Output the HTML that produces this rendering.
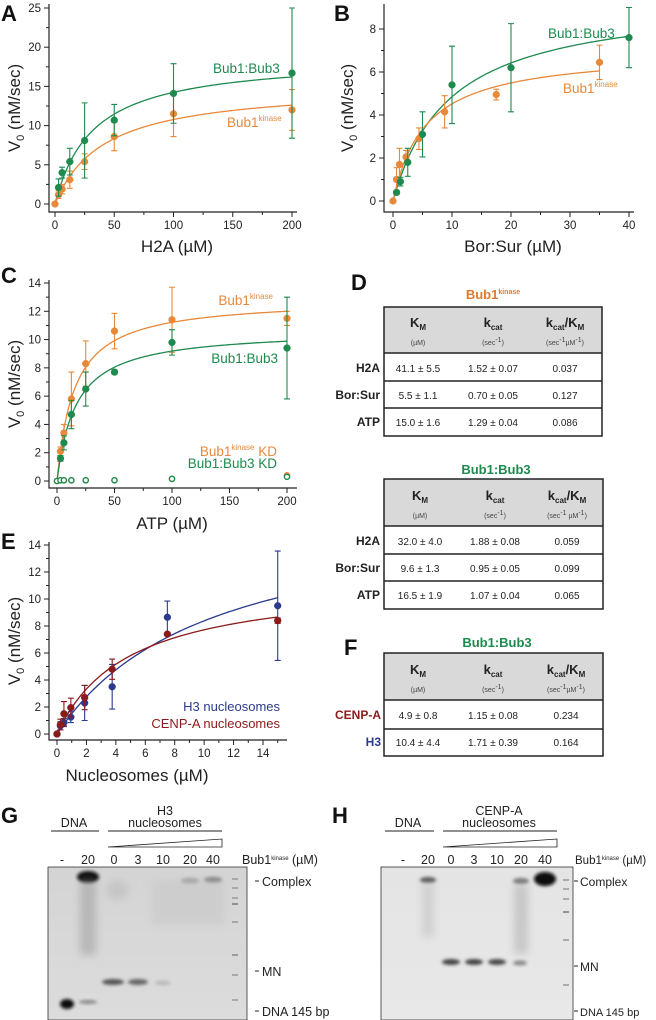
<!DOCTYPE html>
<html><head><meta charset="utf-8"><style>
html,body{margin:0;padding:0;background:#fff}
svg{display:block;font-family:"Liberation Sans",Arial,sans-serif}
</style></head><body>
<svg id="fig" width="656" height="1020" viewBox="0 0 656 1020" xmlns="http://www.w3.org/2000/svg">
<defs>
<filter id="blur1" x="-50%" y="-50%" width="200%" height="200%"><feGaussianBlur stdDeviation="1.6"/></filter>
<filter id="blur3" x="-50%" y="-50%" width="200%" height="200%"><feGaussianBlur stdDeviation="4"/></filter>
<linearGradient id="gelG" x1="0" y1="0" x2="0" y2="1"><stop offset="0" stop-color="#d4d4d4"/><stop offset="1" stop-color="#dcdcdc"/></linearGradient>
<linearGradient id="gelH" x1="0" y1="0" x2="0" y2="1"><stop offset="0" stop-color="#e4e4e4"/><stop offset="1" stop-color="#e8e8e8"/></linearGradient>
</defs>
<g font-weight="bold" font-size="22" fill="#111">
<text x="1" y="21">A</text>
<text x="334" y="21">B</text>
<text x="1" y="283">C</text>
<text x="351" y="290">D</text>
<text x="1" y="549">E</text>
<text x="344" y="655">F</text>
<text x="1" y="823">G</text>
<text x="332" y="823">H</text>
</g>
<g id="plots"></g>

<!-- Table D1 -->
<g>
<text x="493" y="299" text-anchor="middle" font-weight="bold" font-size="13" fill="#e07a2e">Bub1<tspan font-size="7" dy="-5">kinase</tspan></text>
<rect x="384" y="307" width="218" height="46" fill="#d9d9d9"/>
<rect x="384" y="307" width="218" height="129" fill="none" stroke="#222" stroke-width="1.5"/>
<line x1="384" y1="353" x2="602" y2="353" stroke="#222" stroke-width="1.5"/>
<line x1="384" y1="381" x2="602" y2="381" stroke="#222" stroke-width="1.5"/>
<line x1="384" y1="408" x2="602" y2="408" stroke="#222" stroke-width="1.5"/>
<g font-weight="bold" font-size="13" fill="#222" text-anchor="middle">
<text x="418" y="327">K<tspan font-size="8" dy="3">M</tspan></text>
<text x="493" y="327">k<tspan font-size="8" dy="3">cat</tspan></text>
<text x="565" y="327">k<tspan font-size="8" dy="3">cat</tspan><tspan dy="-3">/K</tspan><tspan font-size="8" dy="3">M</tspan></text>
</g>
<g font-size="7" fill="#444" text-anchor="middle">
<text x="418" y="345">(µM)</text><text x="493" y="345">(sec<tspan dy="-3">-1</tspan><tspan dy="3">)</tspan></text><text x="565" y="345">(sec<tspan dy="-3">-1</tspan><tspan dy="3">µM</tspan><tspan dy="-3">-1</tspan><tspan dy="3">)</tspan></text>
</g>
<g font-size="10" fill="#222" text-anchor="middle">
<text x="418" y="372">41.1 ± 5.5</text><text x="493" y="372">1.52 ± 0.07</text><text x="565" y="372">0.037</text>
<text x="418" y="399">5.5 ± 1.1</text><text x="493" y="399">0.70 ± 0.05</text><text x="565" y="399">0.127</text>
<text x="418" y="426">15.0 ± 1.6</text><text x="493" y="426">1.29 ± 0.04</text><text x="565" y="426">0.086</text>
</g>
<g font-weight="bold" font-size="12" fill="#222" text-anchor="end">
<text x="380" y="372">H2A</text><text x="380" y="399">Bor:Sur</text><text x="380" y="426">ATP</text>
</g>
</g>

<!-- Table D2 -->
<g>
<text x="496" y="474" text-anchor="middle" font-weight="bold" font-size="13" fill="#1e8a4e">Bub1:Bub3</text>
<rect x="384" y="479" width="219" height="47" fill="#d9d9d9"/>
<rect x="384" y="479" width="219" height="130" fill="none" stroke="#222" stroke-width="1.5"/>
<line x1="384" y1="526" x2="603" y2="526" stroke="#222" stroke-width="1.5"/>
<line x1="384" y1="554" x2="603" y2="554" stroke="#222" stroke-width="1.5"/>
<line x1="384" y1="581" x2="603" y2="581" stroke="#222" stroke-width="1.5"/>
<g font-weight="bold" font-size="13" fill="#222" text-anchor="middle">
<text x="420" y="500">K<tspan font-size="8" dy="3">M</tspan></text>
<text x="495" y="500">k<tspan font-size="8" dy="3">cat</tspan></text>
<text x="567" y="500">k<tspan font-size="8" dy="3">cat</tspan><tspan dy="-3">/K</tspan><tspan font-size="8" dy="3">M</tspan></text>
</g>
<g font-size="7" fill="#444" text-anchor="middle">
<text x="420" y="518">(µM)</text><text x="495" y="518">(sec<tspan dy="-3">-1</tspan><tspan dy="3">)</tspan></text><text x="567" y="518">(sec<tspan dy="-3">-1</tspan><tspan dy="3"> µM</tspan><tspan dy="-3">-1</tspan><tspan dy="3">)</tspan></text>
</g>
<g font-size="10" fill="#222" text-anchor="middle">
<text x="420" y="545">32.0 ± 4.0</text><text x="495" y="545">1.88 ± 0.08</text><text x="567" y="545">0.059</text>
<text x="420" y="572">9.6 ± 1.3</text><text x="495" y="572">0.95 ± 0.05</text><text x="567" y="572">0.099</text>
<text x="420" y="599">16.5 ± 1.9</text><text x="495" y="599">1.07 ± 0.04</text><text x="567" y="599">0.065</text>
</g>
<g font-weight="bold" font-size="12" fill="#222" text-anchor="end">
<text x="380" y="545">H2A</text><text x="380" y="572">Bor:Sur</text><text x="380" y="599">ATP</text>
</g>
</g>

<!-- Table F -->
<g>
<text x="497" y="647" text-anchor="middle" font-weight="bold" font-size="13" fill="#1e8a4e">Bub1:Bub3</text>
<rect x="384" y="653" width="219" height="47" fill="#d9d9d9"/>
<rect x="384" y="653" width="219" height="103" fill="none" stroke="#222" stroke-width="1.5"/>
<line x1="384" y1="700" x2="603" y2="700" stroke="#222" stroke-width="1.5"/>
<line x1="384" y1="729" x2="603" y2="729" stroke="#222" stroke-width="1.5"/>
<g font-weight="bold" font-size="13" fill="#222" text-anchor="middle">
<text x="418" y="674">K<tspan font-size="8" dy="3">M</tspan></text>
<text x="493" y="674">k<tspan font-size="8" dy="3">cat</tspan></text>
<text x="566" y="674">k<tspan font-size="8" dy="3">cat</tspan><tspan dy="-3">/K</tspan><tspan font-size="8" dy="3">M</tspan></text>
</g>
<g font-size="7" fill="#444" text-anchor="middle">
<text x="418" y="692">(µM)</text><text x="493" y="692">(sec<tspan dy="-3">-1</tspan><tspan dy="3">)</tspan></text><text x="566" y="692">(sec<tspan dy="-3">-1</tspan><tspan dy="3">µM</tspan><tspan dy="-3">-1</tspan><tspan dy="3">)</tspan></text>
</g>
<g font-size="10" fill="#222" text-anchor="middle">
<text x="418" y="719">4.9 ± 0.8</text><text x="493" y="719">1.15 ± 0.08</text><text x="566" y="719">0.234</text>
<text x="418" y="746">10.4 ± 4.4</text><text x="493" y="746">1.71 ± 0.39</text><text x="566" y="746">0.164</text>
</g>
<g font-weight="bold" font-size="12" text-anchor="end">
<text x="381" y="719" fill="#8b1a1a">CENP-A</text><text x="381" y="746" fill="#2b3a8f">H3</text>
</g>
</g>

<!-- Gel G -->
<g font-size="12.5" fill="#222">
<text x="74" y="827" text-anchor="middle">DNA</text>
<line x1="51" y1="831" x2="99" y2="831" stroke="#222"/>
<text x="165" y="815" text-anchor="middle">H3</text>
<text x="165" y="827" text-anchor="middle">nucleosomes</text>
<line x1="108" y1="831" x2="222" y2="831" stroke="#222"/>
<polygon points="108,847 222,839 222,847" fill="#fff" stroke="#222" stroke-width="0.8"/>
<g text-anchor="middle"><text x="62" y="864">-</text><text x="88" y="864">20</text><text x="114" y="864">0</text><text x="138" y="864">3</text><text x="163" y="864">10</text><text x="190" y="864">20</text><text x="213" y="864">40</text></g>
<text x="242" y="864">Bub1<tspan font-size="6" dy="-4">kinase</tspan><tspan dy="4"> (µM)</tspan></text>
<rect x="48" y="867" width="199" height="153" fill="url(#gelG)" stroke="#333" stroke-width="0.8"/>
<ellipse cx="88" cy="877" rx="11" ry="6" fill="#111" filter="url(#blur1)"/>
<rect x="80" y="880" width="16" height="75" fill="#999" opacity="0.5" filter="url(#blur3)"/>
<ellipse cx="117" cy="890" rx="11" ry="10" fill="#c6c6c6" filter="url(#blur3)"/>
<ellipse cx="190" cy="881" rx="9" ry="3" fill="#999" filter="url(#blur1)"/>
<ellipse cx="213" cy="880" rx="9" ry="3" fill="#777" filter="url(#blur1)"/>
<rect x="152" y="880" width="72" height="45" fill="#c8c8c8" opacity="0.6" filter="url(#blur3)"/>
<ellipse cx="113" cy="982" rx="11" ry="3" fill="#555" filter="url(#blur1)"/>
<ellipse cx="138" cy="982" rx="10" ry="3" fill="#666" filter="url(#blur1)"/>
<ellipse cx="163" cy="983" rx="8" ry="2.5" fill="#bbb" filter="url(#blur1)"/>
<ellipse cx="67" cy="1004" rx="7" ry="5" fill="#111" filter="url(#blur1)"/>
<ellipse cx="88" cy="1002" rx="9" ry="2" fill="#888" filter="url(#blur1)"/>
<g stroke="#999" stroke-width="1.5"><line x1="232" y1="879" x2="238" y2="879"/><line x1="232" y1="888" x2="238" y2="888"/><line x1="232" y1="898" x2="238" y2="898"/><line x1="232" y1="904" x2="238" y2="904" stroke="#777"/><line x1="232" y1="922" x2="238" y2="922"/><line x1="232" y1="955" x2="238" y2="955" stroke="#888"/><line x1="232" y1="975" x2="238" y2="975"/><line x1="232" y1="1000" x2="238" y2="1000"/></g>
<g stroke="#222"><line x1="255" y1="881" x2="259" y2="881"/><line x1="255" y1="971" x2="259" y2="971"/><line x1="255" y1="1011" x2="259" y2="1011"/></g>
<text x="262" y="886">Complex</text><text x="262" y="976">MN</text><text x="262" y="1016">DNA 145 bp</text>
</g>

<!-- Gel H -->
<g font-size="12.5" fill="#222">
<text x="408" y="827" text-anchor="middle">DNA</text>
<line x1="385" y1="831" x2="434" y2="831" stroke="#222"/>
<text x="499" y="815" text-anchor="middle">CENP-A</text>
<text x="499" y="827" text-anchor="middle">nucleosomes</text>
<line x1="443" y1="831" x2="557" y2="831" stroke="#222"/>
<polygon points="443,847 557,839 557,847" fill="#fff" stroke="#222" stroke-width="0.8"/>
<g text-anchor="middle"><text x="403" y="864">-</text><text x="428" y="864">20</text><text x="451" y="864">0</text><text x="474" y="864">3</text><text x="497" y="864">10</text><text x="521" y="864">20</text><text x="545" y="864">40</text></g>
<text x="575" y="864" font-size="11.5">Bub1<tspan font-size="6" dy="-4">kinase</tspan><tspan dy="4"> (µM)</tspan></text>
<rect x="381" y="867" width="192" height="153" fill="url(#gelH)" stroke="#333" stroke-width="0.8"/>
<ellipse cx="428" cy="880" rx="8" ry="3" fill="#555" filter="url(#blur1)"/>
<rect x="422" y="882" width="12" height="55" fill="#bbb" opacity="0.5" filter="url(#blur3)"/>
<ellipse cx="521" cy="881" rx="8" ry="3" fill="#777" filter="url(#blur1)"/>
<rect x="514" y="884" width="14" height="70" fill="#aaa" opacity="0.5" filter="url(#blur3)"/>
<ellipse cx="545" cy="879" rx="11" ry="7" fill="#080808" filter="url(#blur1)"/>
<ellipse cx="451" cy="962" rx="9" ry="3" fill="#444" filter="url(#blur1)"/>
<ellipse cx="474" cy="962" rx="9" ry="3" fill="#444" filter="url(#blur1)"/>
<ellipse cx="497" cy="962" rx="9" ry="3" fill="#4a4a4a" filter="url(#blur1)"/>
<ellipse cx="520" cy="963" rx="7" ry="2.5" fill="#888" filter="url(#blur1)"/>
<g stroke="#999" stroke-width="1.5"><line x1="563" y1="880" x2="569" y2="880"/><line x1="563" y1="889" x2="569" y2="889"/><line x1="563" y1="899" x2="569" y2="899"/><line x1="563" y1="912" x2="569" y2="912" stroke="#777"/><line x1="563" y1="940" x2="569" y2="940"/><line x1="563" y1="985" x2="569" y2="985"/></g>
<g stroke="#222"><line x1="574" y1="881" x2="578" y2="881"/><line x1="574" y1="966" x2="578" y2="966"/><line x1="574" y1="1011" x2="578" y2="1011"/></g>
<text x="580" y="886" font-size="12">Complex</text><text x="580" y="971" font-size="12">MN</text><text x="580" y="1016" font-size="11">DNA 145 bp</text>
</g>
</svg>
<script>
// ---------- Panel A data (H2A) ----------
const aX = [3, 6, 12.5, 25, 50, 100, 200];
const aGreenY = [2.1, 4.0, 5.4, 8.1, 10.7, 14.1, 16.7];
const aGreenErr = [1.1, 0.7, 1.7, 4.8, 2.0, 3.8, 8.3];
const aOrangeX = [0, 3, 6, 12.5, 25, 50, 100, 200];
const aOrangeY = [0, 1.2, 1.9, 3.1, 5.4, 8.6, 11.5, 12.0];
const aOrangeErr = [0.1, 0.5, 0.6, 1.1, 1.0, 1.8, 2.9, 2.6];
const aFitGreen = [18.8, 32.0];   // Vmax, Km
const aFitOrange = [15.2, 41.1];
const aXTicks = [0, 50, 100, 150, 200];
const aYTicks = [0, 5, 10, 15, 20, 25];
// ---------- Panel B data (Bor:Sur) ----------
const bGreenX = [0.6, 1.25, 2.5, 5, 10, 20, 40];
const bGreenY = [0.4, 0.9, 1.8, 3.1, 5.4, 6.2, 7.6];
const bGreenErr = [0.1, 0.2, 0.65, 1.05, 1.8, 2.05, 1.4];
const bOrangeX = [0, 0.6, 1.1, 2.2, 4.4, 8.75, 17.5, 35];
const bOrangeY = [0, 1.0, 1.7, 2.05, 2.9, 4.15, 4.95, 6.45];
const bOrangeErr = [0.05, 0.55, 0.75, 0.3, 0.5, 0.75, 0.25, 0.8];
const bFitGreen = [9.5, 9.6];
const bFitOrange = [7.0, 5.5];
const bXTicks = [0, 10, 20, 30, 40];
const bYTicks = [0, 2, 4, 6, 8];
// ---------- Panel C data (ATP) ----------
const cX = [3, 6, 12.5, 25, 50, 100, 200];
const cOrangeY = [2.1, 3.4, 5.8, 8.3, 10.6, 11.4, 11.5];
const cOrangeErr = [0.3, 0.6, 1.9, 1.6, 1.25, 2.3, 0.5];
const cGreenY = [1.6, 2.7, 4.7, 6.5, 7.7, 9.8, 9.4];
const cGreenErr = [0.2, 0.5, 1.0, 1.2, 0.15, 0.9, 3.6];
const cKdX = [0, 3, 6, 12.5, 25, 50, 100, 200];
const cKdOrangeY = [0, 0.05, 0.05, 0.05, 0.05, 0.05, 0.15, 0.4];
const cKdGreenY = [0, 0.05, 0.05, 0.05, 0.05, 0.05, 0.15, 0.3];
const cFitOrange = [12.9, 15.0];
const cFitGreen = [10.7, 16.5];
const cXTicks = [0, 50, 100, 150, 200];
const cYTicks = [0, 2, 4, 6, 8, 10, 12, 14];
// ---------- Panel E data (nucleosomes) ----------
const eX = [0, 0.23, 0.47, 0.94, 1.88, 3.75, 7.5, 15];
const eH3Y = [0, 0.6, 0.85, 1.25, 2.3, 3.5, 8.65, 9.5];
const eH3Err = [0, 0.3, 0.3, 0.4, 1.3, 1.65, 1.2, 4.05];
const eCenY = [0, 0.7, 1.5, 1.95, 2.7, 4.8, 7.4, 8.4];
const eCenErr = [0, 0.4, 0.9, 0.7, 0.9, 0.75, 0.1, 0.2];
const eFitH3 = [17.1, 10.4];
const eFitCen = [11.5, 4.9];
const eXTicks = [0, 2, 4, 6, 8, 10, 12, 14];
const eYTicks = [0, 2, 4, 6, 8, 10, 12, 14];

const NS = 'http://www.w3.org/2000/svg';
const root = document.getElementById('plots');
const GREEN = '#1e8a4e', ORANGE = '#e8893a', BLUE = '#2b3a8f', RED = '#8b1a1a';
function mk(tag, attrs, parent) {
  const e = document.createElementNS(NS, tag);
  for (const k in attrs) e.setAttribute(k, attrs[k]);
  (parent || root).appendChild(e);
  return e;
}
function makeAxes(name, ax) {
  const g = mk('g', {});
  
  
  const sx = v => ax.x0 + (v - ax.xmin) / (ax.xmax - ax.xmin) * (ax.x1 - ax.x0);
  const sy = v => ax.y0 - (v - ax.ymin) / (ax.ymax - ax.ymin) * (ax.y0 - ax.y1);
  const axl = mk('path', {d: `M${ax.left},${ax.top}V${ax.bottom}H${ax.right}`, fill: 'none', stroke: '#222', 'stroke-width': 1.2}, g);
  
  
  const xt = ax.xTicks, yt = ax.yTicks;
  for (let i = 0; i < xt.length; i++) {
    const x = sx(xt[i]);
    mk('line', {x1: x, x2: x, y1: ax.bottom, y2: ax.bottom + 5, stroke: '#222'}, g);
    if (i < xt.length - 1) { const xm = sx((xt[i] + xt[i + 1]) / 2); mk('line', {x1: xm, x2: xm, y1: ax.bottom, y2: ax.bottom + 3, stroke: '#222'}, g); }
    const t = mk('text', {x: x, y: ax.bottom + 17, 'text-anchor': 'middle', 'font-size': 11.5, fill: '#222'}, g);
    
    
    t.textContent = xt[i];
  }
  if (ax.xMinorExtra) { const last = xt[xt.length - 1], st = xt[1] - xt[0]; const xm = sx(last + st / 2); if (xm < ax.right) mk('line', {x1: xm, x2: xm, y1: ax.bottom, y2: ax.bottom + 3, stroke: '#222'}, g); }
  for (let i = 0; i < yt.length; i++) {
    const y = sy(yt[i]);
    mk('line', {x1: ax.left - 5, x2: ax.left, y1: y, y2: y, stroke: '#222'}, g);
    if (i < yt.length - 1) { const ym = sy((yt[i] + yt[i + 1]) / 2); mk('line', {x1: ax.left - 3, x2: ax.left, y1: ym, y2: ym, stroke: '#222'}, g); }
    const t = mk('text', {x: ax.left - 8, y: y + 4, 'text-anchor': 'end', 'font-size': 11.5, fill: '#222'}, g);
    
    
    t.textContent = yt[i];
  }
  const yl = mk('text', {transform: `translate(${ax.ylx},${(ax.top + ax.bottom) / 2}) rotate(-90)`, 'text-anchor': 'middle', 'font-size': 17, fill: '#222'}, g);
  
  
  yl.innerHTML = 'V<tspan font-size="11" dy="4">0</tspan><tspan dy="-4"> (nM/sec)</tspan>';
  const xl = mk('text', {x: ax.xlx, y: ax.xly, 'text-anchor': 'middle', 'font-size': 17, fill: '#222'}, g);
  
  
  xl.textContent = ax.xTitle;
  return {g, sx, sy};
}
function fit(A, fitP, xmax, color, name, xmin) {
  let d = '';
  const n = 120;
  for (let i = 0; i <= n; i++) {
    const x = (xmin || 0) + (xmax - (xmin || 0)) * i / n;
    const y = fitP[0] * x / (fitP[1] + x);
    d += (i ? 'L' : 'M') + A.sx(x).toFixed(2) + ',' + A.sy(y).toFixed(2);
  }
  const p = mk('path', {d, fill: 'none', stroke: color, 'stroke-width': 1.3}, A.g);
  
  
}
function points(A, xs, ys, errs, color, name, open) {
  for (let i = 0; i < xs.length; i++) {
    const x = A.sx(xs[i]), y = A.sy(ys[i]);
    if (errs && errs[i] > 0) {
      const e = errs[i];
      const eb = mk('path', {d: `M${x},${A.sy(ys[i] + e)}V${A.sy(ys[i] - e)}M${x - 3},${A.sy(ys[i] + e)}H${x + 3}M${x - 3},${A.sy(ys[i] - e)}H${x + 3}`, stroke: color, 'stroke-width': 1.1, fill: 'none'}, A.g);
      
      
    }
    const c = mk('circle', {cx: x, cy: y, r: open ? 2.6 : 3.4, fill: open ? '#fff' : color, stroke: color, 'stroke-width': open ? 1.4 : 0.5}, A.g);
    
    
  }
}
function label(A, x, y, html, color, anchor, name, size) {
  const t = mk('text', {x, y, fill: color, 'font-size': size || 13.5, 'text-anchor': anchor || 'start'}, A.g);
  
  
  t.innerHTML = html;
}
const KIN = 'Bub1<tspan font-size="8" dy="-6">kinase</tspan>';

// Panel A
const A = makeAxes('chart-a-h2a', {xmin: 0, xmax: 200, ymin: 0, ymax: 25, x0: 55, x1: 292, y0: 204, y1: 8,
  left: 49, right: 297, top: 4, bottom: 212, xTicks: aXTicks, yTicks: aYTicks, ylx: 20, xlx: 177, xly: 252, xTitle: 'H2A (µM)'});
fit(A, aFitGreen, 200, GREEN, 'fit-bub1-bub3');
fit(A, aFitOrange, 200, ORANGE, 'fit-bub1-kinase');
points(A, aOrangeX, aOrangeY, aOrangeErr, ORANGE, 'bub1-kinase');
points(A, aX, aGreenY, aGreenErr, GREEN, 'bub1-bub3');
label(A, 213, 73, 'Bub1:Bub3', GREEN, 'start', 'legend-bub1-bub3');
label(A, 227, 127, KIN, ORANGE, 'start', 'legend-bub1-kinase');

// Panel B
const B = makeAxes('chart-b-borsur', {xmin: 0, xmax: 40, ymin: 0, ymax: 8, x0: 393, x1: 629, y0: 201, y1: 29,
  left: 384, right: 634, top: 4, bottom: 212, xTicks: bXTicks, yTicks: bYTicks, ylx: 353, xlx: 513, xly: 252, xTitle: 'Bor:Sur (µM)'});
fit(B, bFitGreen, 40, GREEN, 'fit-bub1-bub3');
fit(B, bFitOrange, 35, ORANGE, 'fit-bub1-kinase');
points(B, bOrangeX, bOrangeY, bOrangeErr, ORANGE, 'bub1-kinase');
points(B, bGreenX, bGreenY, bGreenErr, GREEN, 'bub1-bub3');
label(B, 548, 38, 'Bub1:Bub3', GREEN, 'start', 'legend-bub1-bub3');
label(B, 563, 93, KIN, ORANGE, 'start', 'legend-bub1-kinase');

// Panel C
const C = makeAxes('chart-c-atp', {xmin: 0, xmax: 200, ymin: 0, ymax: 14, x0: 57, x1: 287, y0: 481, y1: 283,
  left: 49, right: 297, top: 280, bottom: 488, xTicks: cXTicks, yTicks: cYTicks, ylx: 20, xlx: 172, xly: 529, xTitle: 'ATP (µM)'});
fit(C, cFitOrange, 200, ORANGE, 'fit-bub1-kinase', 0.3);
fit(C, cFitGreen, 200, GREEN, 'fit-bub1-bub3', 0.3);
points(C, cX, cOrangeY, cOrangeErr, ORANGE, 'bub1-kinase');
points(C, cX, cGreenY, cGreenErr, GREEN, 'bub1-bub3');
points(C, cKdX, cKdOrangeY, null, ORANGE, 'bub1-kinase-kd', true);
points(C, cKdX, cKdGreenY, null, GREEN, 'bub1-bub3-kd', true);
label(C, 273, 305, KIN, ORANGE, 'end', 'legend-bub1-kinase');
label(C, 278, 363, 'Bub1:Bub3', GREEN, 'end', 'legend-bub1-bub3');
label(C, 277, 456, KIN + '<tspan dy="6"> KD</tspan>', ORANGE, 'end', 'legend-bub1-kinase-kd');
label(C, 277, 468, 'Bub1:Bub3 KD', GREEN, 'end', 'legend-bub1-bub3-kd');

// Panel E
const E = makeAxes('chart-e-nucleosomes', {xmin: 0, xmax: 14, ymin: 0, ymax: 14, x0: 57, x1: 263, y0: 734, y1: 545,
  left: 49, right: 287, top: 542, bottom: 740, xTicks: eXTicks, yTicks: eYTicks, ylx: 20, xlx: 137, xly: 781, xTitle: 'Nucleosomes (µM)', xMinorExtra: true});
fit(E, eFitH3, 15, BLUE, 'fit-h3');
fit(E, eFitCen, 15, RED, 'fit-cenp-a');
points(E, eX, eH3Y, eH3Err, BLUE, 'h3-nucleosomes');
points(E, eX, eCenY, eCenErr, RED, 'cenp-a-nucleosomes');
label(E, 280, 711, 'H3 nucleosomes', BLUE, 'end', 'legend-h3', 13);
label(E, 280, 728, 'CENP-A nucleosomes', RED, 'end', 'legend-cenp-a', 13);
</script>
</body></html>
